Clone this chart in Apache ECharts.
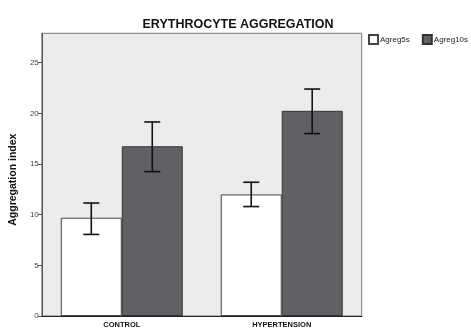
<!DOCTYPE html>
<html><head><meta charset="utf-8">
<script src="https://cdn.jsdelivr.net/npm/echarts@6/dist/echarts.min.js"></script>
<style>html,body{margin:0;padding:0;background:#fff}#c{width:471px;height:329px}</style>
</head><body><div id="c"></div>
<script>
const categories = ['CONTROL', 'HYPERTENSION'];
const seriesNames = ['Agreg5s', 'Agreg10s'];
const agreg5s = [9.7, 12.0];
const agreg10s = [16.75, 20.25];
const agreg5sLow = [8.05, 10.8];
const agreg5sHigh = [11.15, 13.2];
const agreg10sLow = [14.25, 18.0];
const agreg10sHigh = [19.15, 22.4];
const yTicks = [0, 5, 10, 15, 20, 25];

const GAP = 0.2375;
function errSeries(name, low, high, idx) {
  return {
    type: 'custom', name: name + ' err', silent: true, z: 10,
    data: categories.map((c, i) => [i, low[i], high[i]]),
    renderItem: function (params, api) {
      const i = api.value(0);
      const band = api.size([1, 0])[0];
      const bw = band * (1 - GAP) / 2;
      const off = (idx === 0 ? -0.5 : 0.5) * bw;
      const pLo = api.coord([i, api.value(1)]);
      const pHi = api.coord([i, api.value(2)]);
      const x = pLo[0] + off;
      const cap = 8;
      const st = { stroke: '#111', lineWidth: 1.6 };
      return { type: 'group', children: [
        { type: 'line', shape: { x1: x, y1: pLo[1], x2: x, y2: pHi[1] }, style: st },
        { type: 'line', shape: { x1: x - cap, y1: pLo[1], x2: x + cap, y2: pLo[1] }, style: st },
        { type: 'line', shape: { x1: x - cap, y1: pHi[1], x2: x + cap, y2: pHi[1] }, style: st }
      ]};
    }
  };
}

const chart = echarts.init(document.getElementById('c'));
chart.setOption({
  animation: false,
  backgroundColor: '#fff',
  title: {
    text: 'ERYTHROCYTE AGGREGATION', left: 233, top: 13, textAlign: 'center',
    textStyle: { fontFamily: 'Liberation Sans, Arial', fontSize: 12.5, fontWeight: 'bold', color: '#111' }
  },
  legend: {
    data: seriesNames, left: 368, top: 34, width: 120, orient: 'horizontal',
    itemWidth: 9, itemHeight: 9, itemGap: 12, padding: 0,
    icon: 'rect',
    textStyle: { fontFamily: 'Liberation Sans, Arial', fontSize: 8, color: '#222', padding: [0, 0, 0, -3] }
  },
  grid: {
    left: 41.7, right: 109.3, top: 33.3, bottom: 12.3, show: true,
    backgroundColor: '#EBEBEB', borderColor: '#777', borderWidth: 1
  },
  xAxis: {
    type: 'category', data: categories,
    axisLine: { lineStyle: { color: '#222', width: 1.2 } },
    axisTick: { show: false },
    axisLabel: { fontFamily: 'Liberation Sans, Arial', fontSize: 7.5, fontWeight: 'bold', color: '#111', margin: 5 }
  },
  yAxis: {
    type: 'value', min: 0, max: 27.9, interval: 5,
    name: 'Aggregation index', nameLocation: 'middle', nameGap: 22,
    nameTextStyle: { fontFamily: 'Liberation Sans, Arial', fontSize: 10.5, fontWeight: 'bold', color: '#111', padding: [0, 0, 0, -10] },
    axisLine: { show: true, lineStyle: { color: '#555' } },
    axisTick: { show: true, length: 4, lineStyle: { color: '#555' }, customValues: yTicks },
    splitLine: { show: false },
    axisLabel: {
      fontFamily: 'Liberation Sans, Arial', fontSize: 8, color: '#444', margin: 3,
      customValues: yTicks
    }
  },
  series: [
    { type: 'bar', name: seriesNames[0], data: agreg5s, barGap: '0%', barCategoryGap: (GAP * 100) + '%',
      itemStyle: { color: '#FFFFFF', borderColor: '#444', borderWidth: 1 } },
    { type: 'bar', name: seriesNames[1], data: agreg10s,
      itemStyle: { color: '#5F6165', borderColor: '#333', borderWidth: 1 } },
    errSeries(seriesNames[0], agreg5sLow, agreg5sHigh, 0),
    errSeries(seriesNames[1], agreg10sLow, agreg10sHigh, 1)
  ]
});
</script></body></html>
